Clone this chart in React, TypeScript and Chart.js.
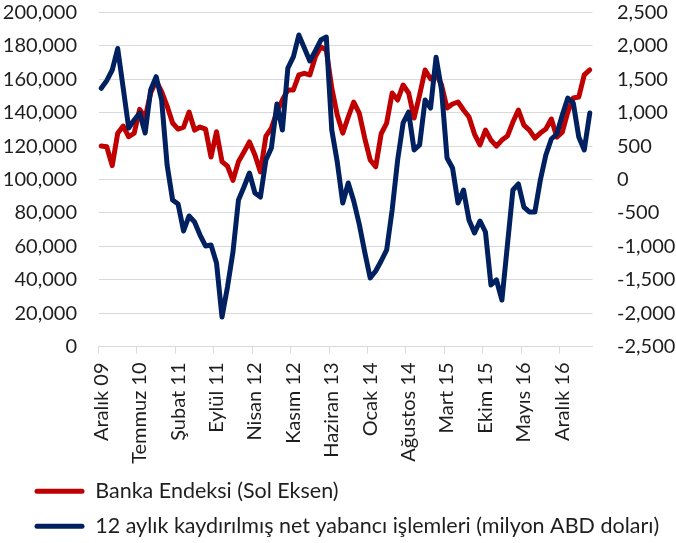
import React, { useEffect, useRef } from "react";
import { Chart, registerables } from "chart.js";

Chart.register(...registerables);

const categories: string[] = [
  "Aralık 09",
  "Ocak 10", "Şubat 10", "Mart 10", "Nisan 10", "Mayıs 10", "Haziran 10", "Temmuz 10", "Ağustos 10", "Eylül 10", "Ekim 10", "Kasım 10", "Aralık 10",
  "Ocak 11", "Şubat 11", "Mart 11", "Nisan 11", "Mayıs 11", "Haziran 11", "Temmuz 11", "Ağustos 11", "Eylül 11", "Ekim 11", "Kasım 11", "Aralık 11",
  "Ocak 12", "Şubat 12", "Mart 12", "Nisan 12", "Mayıs 12", "Haziran 12", "Temmuz 12", "Ağustos 12", "Eylül 12", "Ekim 12", "Kasım 12", "Aralık 12",
  "Ocak 13", "Şubat 13", "Mart 13", "Nisan 13", "Mayıs 13", "Haziran 13", "Temmuz 13", "Ağustos 13", "Eylül 13", "Ekim 13", "Kasım 13", "Aralık 13",
  "Ocak 14", "Şubat 14", "Mart 14", "Nisan 14", "Mayıs 14", "Haziran 14", "Temmuz 14", "Ağustos 14", "Eylül 14", "Ekim 14", "Kasım 14", "Aralık 14",
  "Ocak 15", "Şubat 15", "Mart 15", "Nisan 15", "Mayıs 15", "Haziran 15", "Temmuz 15", "Ağustos 15", "Eylül 15", "Ekim 15", "Kasım 15", "Aralık 15",
  "Ocak 16", "Şubat 16", "Mart 16", "Nisan 16", "Mayıs 16", "Haziran 16", "Temmuz 16", "Ağustos 16", "Eylül 16", "Ekim 16", "Kasım 16", "Aralık 16",
  "Ocak 17", "Şubat 17", "Mart 17", "Nisan 17", "Mayıs 17",
];

// Banka Endeksi (left axis)
const bankIndex: number[] = [
  120100, 119600, 108300, 127700, 132000, 125600, 127700, 142000, 137000, 151800,
  159000, 152600, 144000, 133800, 130200, 131400, 140400, 129600, 131400, 130200,
  113500, 128600, 110700, 108000, 99500, 110700, 116500, 122500, 114700, 104500,
  126000, 130800, 140400, 147600, 153600, 153600, 162600, 163600, 162600, 173400,
  179400, 177500, 154800, 138600, 127800, 137400, 146400, 139800, 124800, 111700,
  107600, 127400, 133800, 151800, 147600, 156600, 151800, 136800, 150600, 165600,
  160200, 163200, 156600, 142800, 145200, 146400, 141600, 137400, 127200, 120700,
  129600, 123600, 120000, 123600, 126000, 134400, 141600, 132600, 129600, 124800,
  127800, 130200, 136200, 125400, 128400, 140400, 148800, 149400, 162600, 165600,
];

// 12 aylık kaydırılmış net yabancı işlemleri (right axis)
const foreignFlows: number[] = [
  1365, 1480, 1639, 1961, 1370, 771, 891, 995, 696, 1340,
  1539, 1190, 217, -307, -367, -771, -546, -636, -831, -995,
  -980, -1250, -2058, -1609, -1085, -307, -112, 97, -202, -262,
  292, 472, 1130, 741, 1669, 1834, 2163, 1969, 1774, 1924,
  2088, 2133, 741, 262, -352, -52, -322, -666, -1085, -1475,
  -1370, -1220, -1055, -457, 292, 846, 1010, 442, 517, 1190,
  1070, 1830, 1340, 322, 172, -352, -157, -606, -801, -621,
  -786, -1579, -1504, -1804, -980, -157, -67, -412, -486, -486,
  -7, 367, 606, 681, 966, 1220, 1145, 636, 442, 995,
];

const seriesNames: string[] = [
  "Banka Endeksi (Sol Eksen)",
  "12 aylık kaydırılmış net yabancı işlemleri (milyon ABD doları)",
];

const RED = "#C00000";
const NAVY = "#002060";
const GRID = "#d9d9d9";
const TEXT = "#1e1e1e";
const FONT = { family: "Lato", size: 20 };
const LEGEND_FONT = { family: "Lato", size: 21.5 };

export default function App() {
  const canvasRef = useRef<HTMLCanvasElement | null>(null);

  useEffect(() => {
    if (!canvasRef.current) return;
    const chart = new Chart(canvasRef.current, {
      type: "line",
      data: {
        labels: categories,
        datasets: [
          {
            label: seriesNames[0],
            data: bankIndex,
            yAxisID: "y",
            borderColor: RED,
            backgroundColor: RED,
            borderWidth: 5,
            pointRadius: 0,
            tension: 0,
            borderJoinStyle: "round",
            borderCapStyle: "round",
            order: 1,
          },
          {
            label: seriesNames[1],
            data: foreignFlows,
            yAxisID: "y1",
            borderColor: NAVY,
            backgroundColor: NAVY,
            borderWidth: 5,
            pointRadius: 0,
            tension: 0,
            borderJoinStyle: "round",
            borderCapStyle: "round",
            order: 0,
          },
        ],
      },
      options: {
        responsive: false,
        animation: false,
        events: [],
        layout: { padding: { left: 21, right: 0, top: 12.5, bottom: 0 } },
        plugins: {
          tooltip: { enabled: false },
          legend: {
            position: "bottom",
            align: "start",
            labels: {
              boxWidth: 50,
              boxHeight: 5,
              padding: 13.5,
              useBorderRadius: true,
              borderRadius: 2.5,
              color: TEXT,
              font: LEGEND_FONT,
              sort: (a: any, b: any) => a.datasetIndex - b.datasetIndex,
              generateLabels: (c: any) =>
                Chart.defaults.plugins.legend.labels
                  .generateLabels(c)
                  .map((l: any) => ({ ...l, lineWidth: 0, fillStyle: l.strokeStyle })),
            },
          },
        },
        scales: {
          x: {
            type: "category",
            offset: true,
            grid: {
              offset: true,
              drawOnChartArea: false,
              drawTicks: true,
              tickLength: 7,
              lineWidth: 1,
              color: (ctx: any) => (ctx.index % 7 === 0 ? GRID : "rgba(0,0,0,0)"),
            },
            border: { display: true, color: GRID, width: 1 },
            ticks: {
              autoSkip: false,
              minRotation: 90,
              maxRotation: 90,
              padding: 9,
              color: TEXT,
              font: FONT,
              callback: (_v: any, i: number) => (i % 7 === 0 ? categories[i] : ""),
            },
            afterFit: (s: any) => {
              s.height = 120.5;
            },
          },
          y: {
            position: "left",
            min: 0,
            max: 200000,
            ticks: {
              stepSize: 20000,
              padding: 0,
              color: TEXT,
              font: FONT,
              callback: (v: any) => Number(v).toLocaleString("en-US"),
            },
            grid: {
              color: GRID,
              lineWidth: 1,
              drawTicks: true,
              tickLength: 21.5,
              tickColor: "rgba(0,0,0,0)",
            },
            border: { display: false },
            afterFit: (s: any) => {
              s.width = 77.5;
              s._computeLabelArea = () => undefined;
            },
          },
          y1: {
            position: "right",
            min: -2500,
            max: 2500,
            ticks: {
              stepSize: 500,
              padding: 0,
              color: TEXT,
              font: FONT,
              callback: (v: any) => Number(v).toLocaleString("en-US"),
            },
            grid: {
              display: true,
              drawOnChartArea: false,
              drawTicks: true,
              tickLength: 24.5,
              tickColor: "rgba(0,0,0,0)",
              color: "rgba(0,0,0,0)",
            },
            border: { display: false },
            afterFit: (s: any) => {
              s.width = 83.5;
              s._computeLabelArea = () => undefined;
            },
          },
        },
      },
    } as any);
    return () => chart.destroy();
  }, []);

  return (
    <div
      style={{
        position: "absolute",
        left: 0,
        top: 0,
        width: 676,
        height: 543,
        overflow: "hidden",
        background: "#fff",
      }}
    >
      <canvas ref={canvasRef} width={676} height={547} style={{ display: "block" }} />
    </div>
  );
}
